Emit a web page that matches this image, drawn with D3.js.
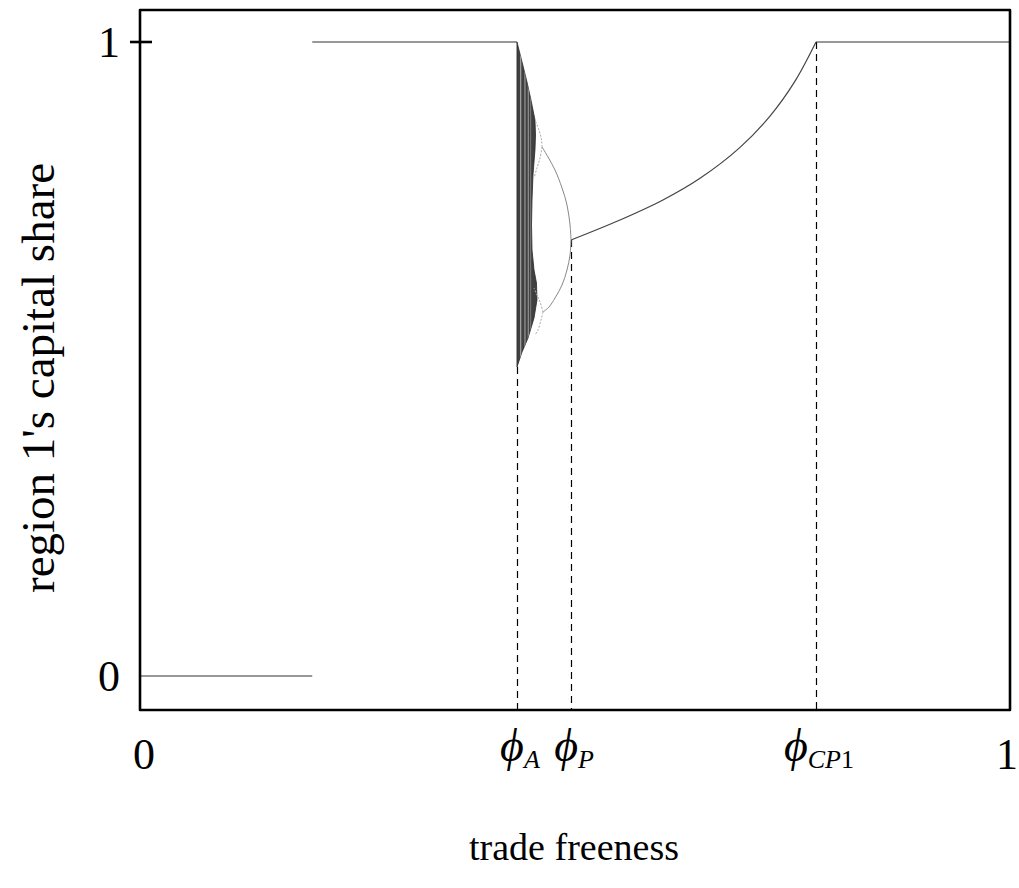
<!DOCTYPE html>
<html>
<head>
<meta charset="utf-8">
<script src="https://cdn.jsdelivr.net/npm/d3@7"></script>
<style>
  body { margin: 0; background: #fff; }
  svg { display: block; font-family: "Liberation Serif", "DejaVu Serif", serif; }
</style>
</head>
<body>
<main></main>
<script>
// stable branches [trade freeness, capital share]
let lowBranch = [[0, 0], [0.198, 0]]
let highBranch = [[0.198, 1], [0.4333, 1]]
let highBranchRight = [[0.777, 1], [1, 1]]
let interiorBranch = [[0.4954, 0.6877], [0.5517, 0.7192], [0.6011, 0.7508], [0.6437, 0.7850],
    [0.6897, 0.8338], [0.7241, 0.8831], [0.7529, 0.9383], [0.7770, 1.0]]

// period-2 orbit after the flip at phi_P
let period2Upper = [[0.4954, 0.6877], [0.4943, 0.7114], [0.4908, 0.7429], [0.4851, 0.7697],
    [0.4770, 0.7981], [0.4690, 0.8186], [0.4621, 0.8344]]
let period2Lower = [[0.4954, 0.6877], [0.4943, 0.6640], [0.4908, 0.6404], [0.4851, 0.6167],
    [0.4770, 0.5962], [0.4701, 0.5820], [0.4632, 0.5741]]

// period-4 loops
let period4 = [
    [[0.4621, 0.8344], [0.4615, 0.8454], [0.4586, 0.8612], [0.4540, 0.8770]],
    [[0.4621, 0.8344], [0.4598, 0.8170], [0.4563, 0.8013], [0.4529, 0.7855]],
    [[0.4632, 0.5741], [0.4609, 0.5615], [0.4575, 0.5457], [0.4540, 0.5379]],
    [[0.4632, 0.5741], [0.4598, 0.5899], [0.4563, 0.6009], [0.4529, 0.6120]]
]

// outline of the chaotic band (right edge, top to bottom)
let chaosBand = [[0.4333, 1.0], [0.4391, 0.9685], [0.4448, 0.9369], [0.4494, 0.9085],
    [0.4540, 0.8770], [0.4546, 0.8533], [0.4540, 0.8297], [0.4517, 0.7902],
    [0.4506, 0.7508], [0.4500, 0.7114], [0.4506, 0.6719], [0.4529, 0.6404],
    [0.4557, 0.6199], [0.4563, 0.5931], [0.4529, 0.5647], [0.4460, 0.5331],
    [0.4391, 0.5110], [0.4333, 0.4874]]
// lighter periodic windows inside the band, and their grey level
let windows = [0.4376, 0.4425, 0.4463, 0.4490]
let windowShade = ["#b0b0b0", "#a0a0a0", "#9a9a9a", "#777"]

// critical points: subscript, value, share where the dashed line starts
let critical = [
    {name: "A", num: "", phi: 0.4333, share: 0.4874},
    {name: "P", num: "", phi: 0.4954, share: 0.6877},
    {name: "CP", num: "1", phi: 0.777, share: 1}
]
let xTickValues = [0, 1]
let yTickValues = [0, 1]

const width = 1019
const height = 888
const frame = {left: 140, right: 1010, top: 10, bottom: 710}

let svg = d3.select("main")
    .append("svg")
    .attr("width", width)
    .attr("height", height)

let x = d3.scaleLinear().domain([0, 1]).range([frame.left, frame.right])
let y = d3.scaleLinear().domain([0, 1]).range([676, 42])

let line = d3.line().x(d => x(d[0])).y(d => y(d[1]))

svg.append("clipPath")
    .attr("id", "band-clip")
    .append("path")
    .attr("d", line(chaosBand) + "Z")

svg.append("path")
    .attr("d", line(chaosBand) + "Z")
    .attr("fill", "#404040")
    .attr("stroke", "#2a2a2a")
    .attr("stroke-width", 0.8)

svg.append("g")
    .attr("clip-path", "url(#band-clip)")
    .selectAll("line")
    .data(windows)
    .enter()
    .append("line")
    .attr("x1", d => x(d))
    .attr("x2", d => x(d))
    .attr("y1", y(1))
    .attr("y2", y(0.48))
    .attr("stroke", (d, i) => windowShade[i])
    .attr("stroke-width", 1.1)

// dashed guides
svg.append("g")
    .selectAll("line")
    .data(critical)
    .enter()
    .append("line")
    .attr("x1", d => Math.round(x(d.phi)) + 0.5)
    .attr("x2", d => Math.round(x(d.phi)) + 0.5)
    .attr("y1", d => y(d.share))
    .attr("y2", frame.bottom)
    .attr("stroke", "#000")
    .attr("stroke-width", 1.2)
    .attr("stroke-dasharray", "7,5")

// branches
for (let b of [lowBranch, highBranch, highBranchRight]) {
    svg.append("path")
        .attr("d", line(b))
        .attr("fill", "none")
        .attr("stroke", "#333")
        .attr("stroke-width", 1.2)
}

svg.append("path")
    .attr("d", line.curve(d3.curveCatmullRom)(interiorBranch))
    .attr("fill", "none")
    .attr("stroke", "#444")
    .attr("stroke-width", 1.2)

for (let b of [period2Upper, period2Lower]) {
    svg.append("path")
        .attr("d", line.curve(d3.curveCatmullRom)(b))
        .attr("fill", "none")
        .attr("stroke", "#888")
        .attr("stroke-width", 1)
}

for (let b of period4) {
    svg.append("path")
        .attr("d", line.curve(d3.curveCatmullRom)(b))
        .attr("fill", "none")
        .attr("stroke", "#aaa")
        .attr("stroke-width", 1)
        .attr("stroke-dasharray", "2,1.5")
}

// frame and tick
svg.append("rect")
    .attr("x", frame.left)
    .attr("y", frame.top)
    .attr("width", frame.right - frame.left)
    .attr("height", frame.bottom - frame.top)
    .attr("fill", "none")
    .attr("stroke", "#000")
    .attr("stroke-width", 2.6)
    .attr("stroke-linejoin", "round")

svg.append("line")
    .attr("x1", frame.left - 10)
    .attr("x2", frame.left + 12)
    .attr("y1", y(1))
    .attr("y2", y(1))
    .attr("stroke", "#000")
    .attr("stroke-width", 2.6)

// tick labels
svg.append("g")
    .selectAll("text")
    .data(yTickValues)
    .enter()
    .append("text")
    .attr("x", 120)
    .attr("y", d => y(d) + 15)
    .attr("text-anchor", "end")
    .attr("font-size", 44)
    .text(d => d)

svg.append("g")
    .selectAll("text")
    .data(xTickValues)
    .enter()
    .append("text")
    .attr("x", d => x(d) + (d === 0 ? 4 : -3))
    .attr("y", 769)
    .attr("text-anchor", "middle")
    .attr("font-size", 44)
    .text(d => d)

let phiLabels = svg.append("g")
    .selectAll("text")
    .data(critical)
    .enter()
    .append("text")
    .attr("x", d => x(d.phi) + 3)
    .attr("y", 761)
    .attr("text-anchor", "middle")
    .attr("font-size", 46)

phiLabels.append("tspan").attr("font-style", "italic").text("\u03D5")
phiLabels.append("tspan")
    .attr("font-size", 26)
    .attr("font-style", "italic")
    .attr("dy", 7)
    .text(d => d.name)
phiLabels.append("tspan")
    .attr("font-size", 26)
    .text(d => d.num)

// axis titles
svg.append("text")
    .attr("x", 574)
    .attr("y", 860)
    .attr("text-anchor", "middle")
    .attr("font-size", 38)
    .text("trade freeness")

svg.append("text")
    .attr("transform", "translate(54, 378) rotate(-90)")
    .attr("text-anchor", "middle")
    .attr("font-size", 47)
    .text("region 1's capital share")
</script>
</body>
</html>
